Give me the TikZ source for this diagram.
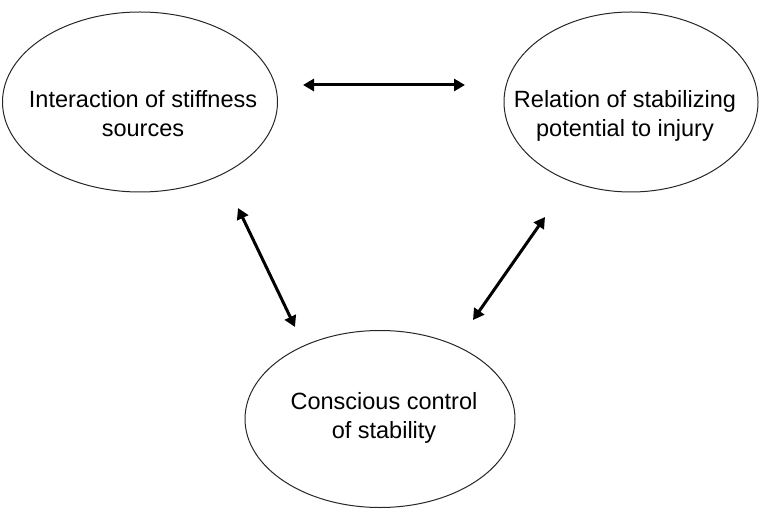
\documentclass[tikz,border=0pt]{standalone}
\usepackage{fontspec}
\setmainfont{Liberation Sans}
\usepackage{tikz}
\usetikzlibrary{shapes.geometric}
\usetikzlibrary{arrows.meta}

\begin{document}
\begin{tikzpicture} [x=1pt,y=-1pt,
     ov/.style={ellipse, draw=black!85, line width=1pt, inner sep=0pt},
     lbl/.style={align=center, font=\fontsize{23.5}{29}\selectfont},
     dbl/.style={line width=3pt, {Triangle[length=11pt,width=12pt]}-{Triangle[length=11pt,width=12pt]}}
   ]
\useasboundingbox (0,0) rectangle (759,510);

\node (stiff) [ov, minimum width=275pt, minimum height=180pt] at (140,102) {};
\node (injury) [ov, minimum width=254pt, minimum height=180pt] at (631,102) {};
\node (control) [ov, minimum width=270pt, minimum height=177pt] at (380,419) {};

\node (stifftxt) [lbl] at (143,114) {Interaction of stiffness\\sources};
\node (injurytxt) [lbl] at (625,116) {Relation of stabilizing\\potential to injury};
\node (controltxt) [lbl] at (384,418) {Conscious control\\of stability};

% free-standing double arrows
\coordinate (top1) at (303,85);
\coordinate (top2) at (465,85);
\coordinate (lft1) at (238,208);
\coordinate (lft2) at (295,327);
\coordinate (rgt1) at (545,217);
\coordinate (rgt2) at (473,320);

\draw [dbl] (top1) -- (top2);
\draw [dbl] (lft1) -- (lft2);
\draw [dbl] (rgt1) -- (rgt2);
\end{tikzpicture}
\end{document}
